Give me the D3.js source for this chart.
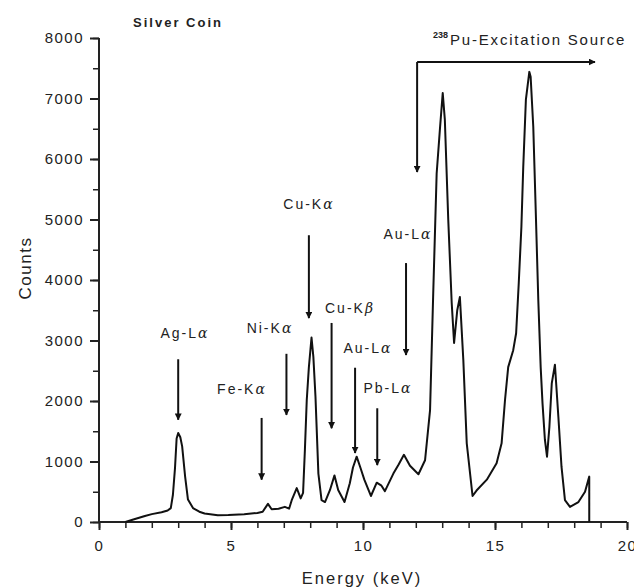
<!DOCTYPE html>
<html>
<head>
<meta charset="utf-8">
<script src="https://cdn.jsdelivr.net/npm/d3@7"></script>
<style>
  body { margin: 0; background: #fff; }
  text { font-family: "Liberation Sans", Arial, sans-serif; fill: #222; }
</style>
</head>
<body>
<div id="chart"></div>
<script>
// 谱线数据 (keV, counts)
const energy = [1.0, 1.3, 1.74, 2.0, 2.37, 2.6, 2.72, 2.8, 2.88, 2.94, 3.0, 3.08, 3.15, 3.26, 3.37, 3.56, 3.8, 4.0, 4.5, 4.9,
  5.5, 6.0, 6.2, 6.4, 6.54, 6.8, 7.04, 7.2, 7.3, 7.49, 7.64, 7.73, 7.8, 7.87, 7.95, 8.05, 8.12, 8.2, 8.31, 8.43,
  8.56, 8.75, 8.92, 9.06, 9.3, 9.5, 9.62, 9.76, 9.9, 10.05, 10.3, 10.52, 10.7, 10.83, 11.15, 11.35, 11.55, 11.78, 12.1, 12.35,
  12.54, 12.66, 12.79, 12.92, 13.02, 13.1, 13.23, 13.36, 13.45, 13.57, 13.67, 13.8, 13.93, 14.15, 14.3, 14.69, 15.06, 15.25, 15.38, 15.5,
  15.69, 15.8, 15.9, 16.0, 16.07, 16.17, 16.3, 16.35, 16.45, 16.55, 16.64, 16.73, 16.8, 16.89, 16.97, 17.06, 17.15, 17.27, 17.4, 17.52,
  17.65, 17.84, 18.16, 18.41, 18.57, 18.57];
const counts = [0, 40, 100, 130, 160, 190, 230, 450, 900, 1380, 1470, 1400, 1250, 760, 370, 230, 170, 140, 110, 115,
  130, 150, 170, 300, 210, 220, 250, 220, 360, 560, 390, 480, 1200, 2020, 2560, 3050, 2730, 2070, 800, 360,
  330, 530, 770, 530, 330, 640, 900, 1080, 900, 700, 430, 650, 600, 510, 800, 950, 1110, 930, 790, 1020,
  1850, 3780, 5760, 6530, 7090, 6650, 4990, 3620, 2960, 3500, 3720, 2680, 1300, 430, 520, 700, 970, 1300, 2020, 2560,
  2840, 3120, 3950, 4880, 5870, 6980, 7440, 7360, 6530, 5040, 3670, 2560, 1960, 1360, 1080, 1570, 2290, 2600, 1740, 910,
  360, 250, 330, 500, 750, 0];

// 刻度
const xTicks = [0, 5, 10, 15, 20];
const yTicks = [0, 1000, 2000, 3000, 4000, 5000, 6000, 7000, 8000];

// 峰标注: 名称, 能量, 箭头起止计数
const peakNames = ["Ag-L", "Fe-K", "Ni-K", "Cu-K", "Cu-K", "Au-L", "Pb-L", "Au-L"];
const peakGreek = ["α", "α", "α", "α", "β", "α", "α", "α"];
const peakEnergy = [3.0, 6.16, 7.1, 7.95, 8.81, 9.7, 10.54, 11.63];
const arrowFrom = [2690, 1720, 2780, 4740, 3290, 2550, 1880, 4280];
const arrowTo = [1690, 700, 1770, 3370, 1550, 1140, 940, 2760];
// 标签位置 (像素)
const labelX = [185, 242, 270, 309, 350, 368, 388, 408];
const labelY = [338, 394, 333, 209, 313, 353, 393, 239];

const width = 634, height = 587;
const svg = d3.select("#chart").append("svg")
  .attr("width", width).attr("height", height);

const x = d3.scaleLinear().domain([0, 20]).range([99, 627]);
const y = d3.scaleLinear().domain([0, 8000]).range([522, 38]);

// 箭头
const defs = svg.append("defs");
defs.append("marker").attr("id", "head")
  .attr("viewBox", "0 0 10 10").attr("refX", 9).attr("refY", 5)
  .attr("markerWidth", 7).attr("markerHeight", 7).attr("markerUnits", "userSpaceOnUse")
  .attr("orient", "auto")
  .append("path").attr("d", "M0,0 L10,5 L0,10 Z").attr("fill", "#111");

// 坐标轴 - 次刻度
svg.append("g").attr("transform", "translate(0,522)")
  .call(d3.axisBottom(x).ticks(20).tickSize(6).tickFormat(""))
  .call(g => g.select(".domain").remove())
  .selectAll("line").attr("stroke", "#222").attr("stroke-width", 1.5);
svg.append("g").attr("transform", "translate(99,0)")
  .call(d3.axisLeft(y).ticks(16).tickSize(6).tickFormat(""))
  .call(g => g.select(".domain").remove())
  .selectAll("line").attr("stroke", "#222").attr("stroke-width", 1.5);

// 主刻度
const xAxis = svg.append("g").attr("transform", "translate(0,522)")
  .call(d3.axisBottom(x).tickValues(xTicks).tickFormat(d3.format("d"))
    .tickSizeInner(8).tickSizeOuter(0).tickPadding(10));
const yAxis = svg.append("g").attr("transform", "translate(99,0)")
  .call(d3.axisLeft(y).tickValues(yTicks).tickFormat(d3.format("d"))
    .tickSizeInner(9).tickSizeOuter(0).tickPadding(6));
[xAxis, yAxis].forEach(g => {
  g.select(".domain").attr("stroke", "#222").attr("stroke-width", 2);
  g.selectAll(".tick line").attr("stroke", "#222").attr("stroke-width", 2);
  g.selectAll(".tick text").attr("font-size", 15).attr("fill", "#222")
    .style("font-family", "'Liberation Sans', Arial, sans-serif").style("letter-spacing", "1.5px");
});
yAxis.select(".domain").attr("d", "M0,522V38");
xAxis.select(".domain").attr("d", "M99,0H627");

// 谱线
const pts = energy.map((e, i) => [e, counts[i]]);
svg.append("path").datum(pts)
  .attr("fill", "none").attr("stroke", "#111").attr("stroke-width", 2)
  .attr("stroke-linejoin", "round")
  .attr("d", d3.line().x(d => x(d[0])).y(d => y(d[1])));

// 峰标注箭头
peakEnergy.forEach((e, i) => {
  svg.append("line")
    .attr("x1", x(e)).attr("x2", x(e))
    .attr("y1", y(arrowFrom[i])).attr("y2", y(arrowTo[i]))
    .attr("stroke", "#111").attr("stroke-width", 2)
    .attr("marker-end", "url(#head)");
  const t = svg.append("text")
    .attr("x", labelX[i]).attr("y", labelY[i])
    .attr("text-anchor", "middle").attr("font-size", 14)
    .style("letter-spacing", "2px");
  t.append("tspan").text(peakNames[i]);
  t.append("tspan").attr("font-style", "italic").attr("font-family", "'DejaVu Serif', serif").text(peakGreek[i]);
});

// 激发源箭头
svg.append("path")
  .attr("d", `M${x(12.05)},62 H595`)
  .attr("fill", "none").attr("stroke", "#111").attr("stroke-width", 2)
  .attr("marker-end", "url(#head)");
svg.append("path")
  .attr("d", `M${x(12.05)},62 V172`)
  .attr("fill", "none").attr("stroke", "#111").attr("stroke-width", 2)
  .attr("marker-end", "url(#head)");
const src = svg.append("text").attr("x", 433).attr("y", 45).attr("font-size", 15)
  .style("letter-spacing", "1.8px");
src.append("tspan").attr("font-size", 9).attr("dy", -7).attr("font-weight", "bold")
  .style("letter-spacing", "0px").text("238");
src.append("tspan").attr("dy", 7).attr("dx", 2).text("Pu-Excitation Source");

// 标题
svg.append("text").attr("x", 178).attr("y", 27).attr("text-anchor", "middle")
  .attr("font-size", 13).attr("font-weight", "bold").style("letter-spacing", "2px")
  .text("Silver Coin");

// 轴标题
svg.append("text").attr("transform", "translate(31,268) rotate(-90)")
  .attr("text-anchor", "middle").attr("font-size", 17).style("letter-spacing", "1.5px").text("Counts");
svg.append("text").attr("x", 362).attr("y", 584)
  .attr("text-anchor", "middle").attr("font-size", 16.5).style("letter-spacing", "2px")
  .text("Energy (keV)");
</script>
</body>
</html>
